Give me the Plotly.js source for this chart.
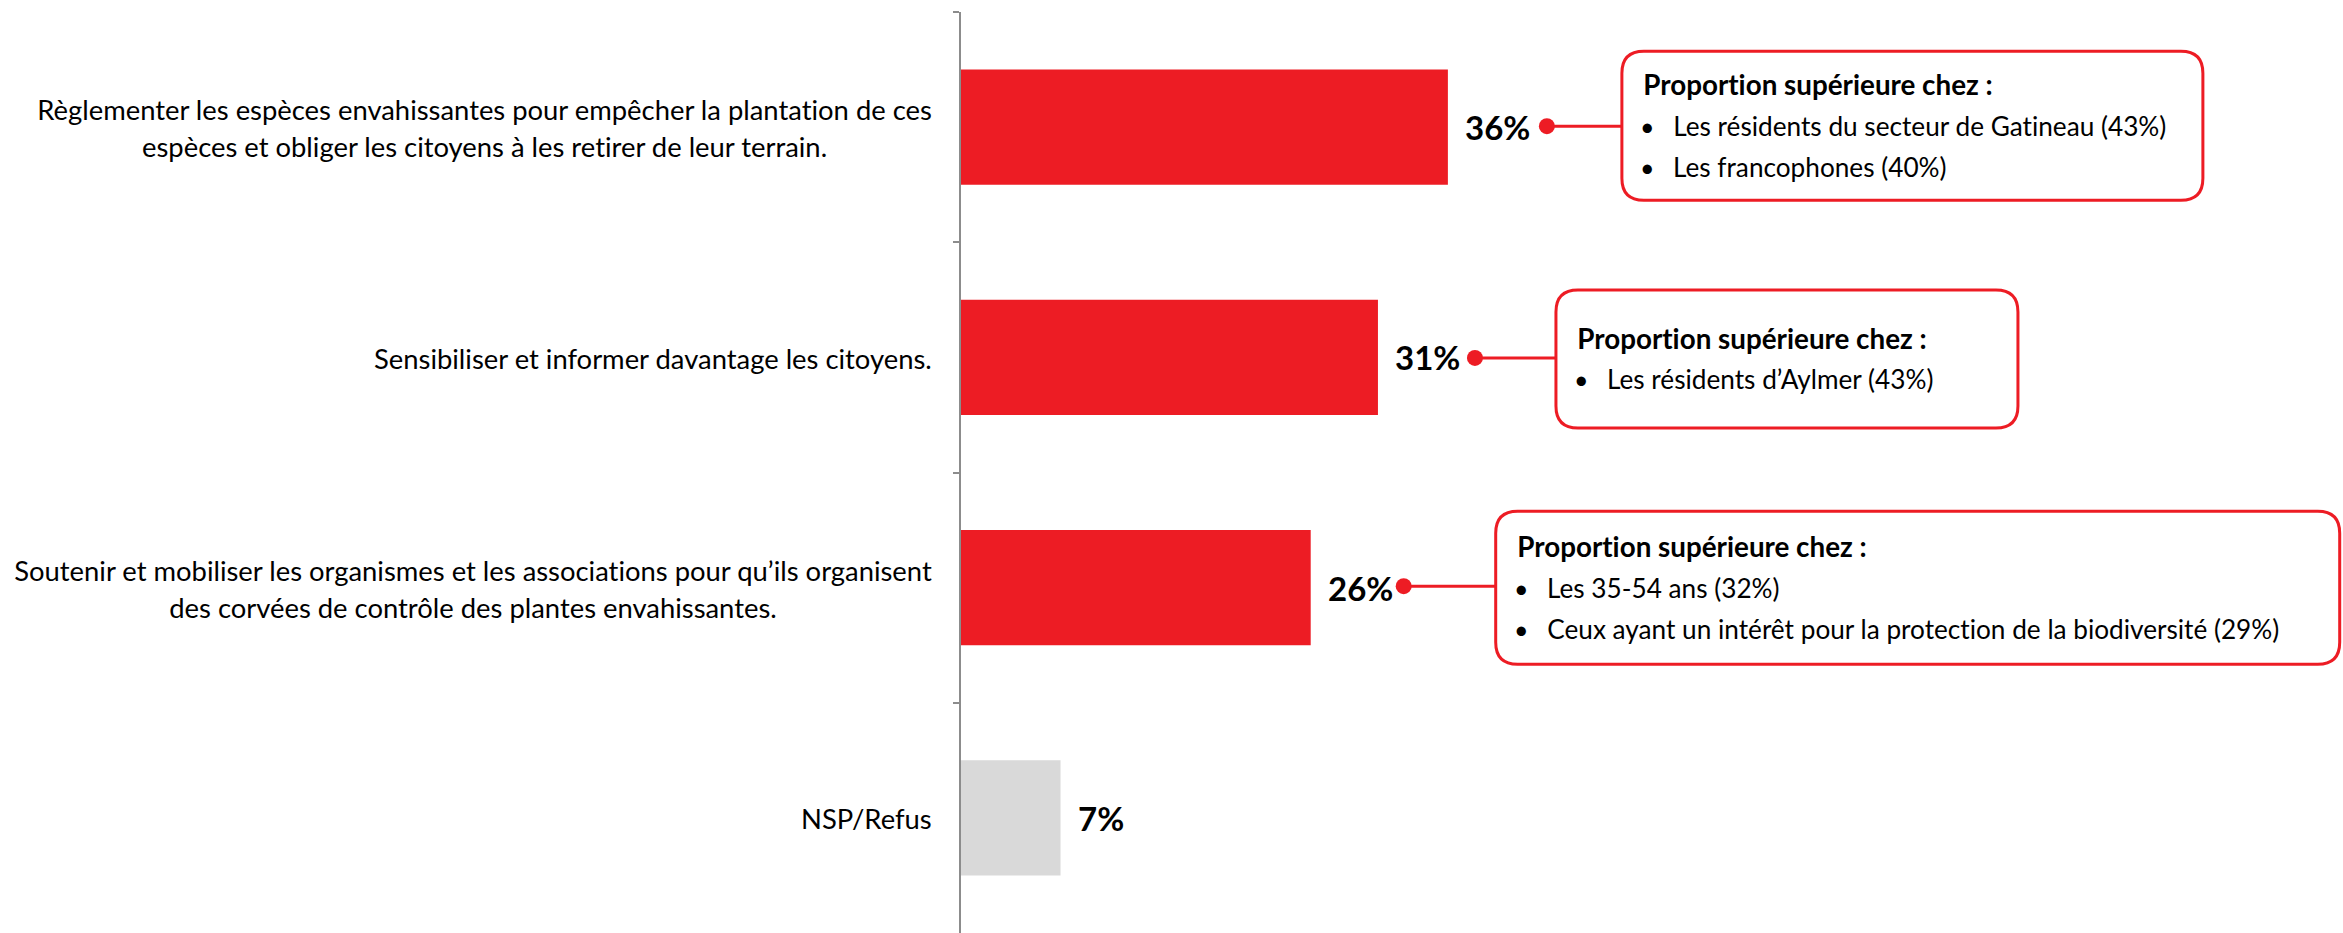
<!DOCTYPE html>
<html><head><meta charset="utf-8">
<script src="https://cdn.plot.ly/plotly-3.0.1.min.js"></script>
<style>html,body{margin:0;padding:0;background:#fff}#chart{width:2343px;height:933px}
#chart text, #chart tspan{font-variant-ligatures:none;font-feature-settings:"liga" 0,"clig" 0}</style>
</head><body><div id="chart"></div>
<script>
// ---- data ----
const categories = [
  "Règlementer les espèces envahissantes pour empêcher la plantation de ces<br>espèces et obliger les citoyens à les retirer de leur terrain.",
  "Sensibiliser et informer davantage les citoyens.",
  "Soutenir et mobiliser les organismes et les associations pour qu’ils organisent<br>des corvées de contrôle des plantes envahissantes.",
  "NSP/Refus"
];
const values = [36.2, 31.0, 26.0, 7.4];
const valueLabels = ["36%", "31%", "26%", "7%"];
const calloutTitle = "Proportion supérieure chez :";
const calloutItems = [
  ["Les résidents du secteur de Gatineau (43%)", "Les francophones (40%)"],
  ["Les résidents d’Aylmer (43%)"],
  ["Les 35-54 ans (32%)", "Ceux ayant un intérêt pour la protection de la biodiversité (29%)"],
  []
];

// ---- styles / positions ----
const RED = "#ED1C24", GRAY = "#D9D9D9";
const barColors = [RED, RED, RED, GRAY];
const FONT = "Lato, 'Open Sans', sans-serif";
const geom = [
  {dot: 99, left: 174, width: 581, height: 149, cy: 1.5, dotY: 1},
  {dot: 97, left: 178, width: 462, height: 138, cy: -1.5, dotY: -0.5},
  {dot: 93, left: 185, width: 844, height: 153, cy: 0, dotY: 1.5},
  null
];

const shapes = [];
const annotations = [];

categories.forEach((cat, i) => {
  const lines = cat.split("<br>").map(l => '<span style="font-size:27.4px">' + l + '</span>').join("<br>");
  annotations.push({
    xref: "paper", x: 0, xanchor: "right", xshift: -27,
    yref: "y", y: i, yanchor: "middle", yshift: -1,
    text: lines, align: "center", showarrow: false,
    font: {family: FONT, size: 28.5, color: "#000"}
  });
  annotations.push({
    xref: "x", x: values[i], xanchor: "left", xshift: 15,
    yref: "y", y: i, yanchor: "middle", yshift: 0,
    text: "<b>" + valueLabels[i] + "</b>", showarrow: false,
    font: {family: FONT, size: 33, color: "#000"}
  });
  const g = geom[i];
  if (!g || !calloutItems[i].length) return;
  const x0 = g.left, x1 = g.left + g.width;
  const yb = g.cy - g.height / 2, yt = g.cy + g.height / 2, r = 22;
  const path = `M ${x0 + r},${yt} L ${x1 - r},${yt} Q ${x1},${yt} ${x1},${yt - r} L ${x1},${yb + r} Q ${x1},${yb} ${x1 - r},${yb} L ${x0 + r},${yb} Q ${x0},${yb} ${x0},${yb + r} L ${x0},${yt - r} Q ${x0},${yt} ${x0 + r},${yt} Z`;
  shapes.push({
    type: "line", xref: "x", xsizemode: "pixel", xanchor: values[i], x0: g.dot, x1: g.left,
    yref: "y", ysizemode: "pixel", yanchor: i, y0: g.dotY, y1: g.dotY,
    line: {color: RED, width: 3}
  });
  shapes.push({
    type: "circle", xref: "x", xsizemode: "pixel", xanchor: values[i], x0: g.dot - 8, x1: g.dot + 8,
    yref: "y", ysizemode: "pixel", yanchor: i, y0: g.dotY - 8, y1: g.dotY + 8,
    fillcolor: RED, line: {color: RED, width: 0}
  });
  shapes.push({
    type: "path", xref: "x", xsizemode: "pixel", xanchor: values[i],
    yref: "y", ysizemode: "pixel", yanchor: i, path: path,
    fillcolor: "#fff", line: {color: RED, width: 3}
  });
  const n = 1 + calloutItems[i].length, sp = 41;
  const rows = [calloutTitle].concat(calloutItems[i]);
  rows.forEach((t, k) => {
    const up = g.cy - (k - (n - 1) / 2) * sp;
    if (k === 0) {
      annotations.push({
        xref: "x", x: values[i], xanchor: "left", xshift: g.left + 19,
        yref: "y", y: i, yanchor: "middle", yshift: up,
        text: "<b>" + t + "</b>", showarrow: false,
        font: {family: FONT, size: 27.8, color: "#000"}
      });
    } else {
      annotations.push({
        xref: "x", x: values[i], xanchor: "left", xshift: g.left + 16,
        yref: "y", y: i, yanchor: "middle", yshift: up,
        text: "•", showarrow: false,
        font: {family: FONT, size: 25, color: "#000"}
      });
      annotations.push({
        xref: "x", x: values[i], xanchor: "left", xshift: g.left + 49,
        yref: "y", y: i, yanchor: "middle", yshift: up,
        text: t, showarrow: false,
        font: {family: FONT, size: 26.2, color: "#000"}
      });
    }
  });
});

const trace = {
  type: "bar", orientation: "h",
  x: values, y: categories,
  marker: {color: barColors, line: {width: 0}},
  hoverinfo: "none", textposition: "none"
};

const layout = {
  width: 2343, height: 933,
  margin: {l: 961, r: 0, t: 12, b: 0, pad: 0},
  paper_bgcolor: "#fff", plot_bgcolor: "#fff",
  showlegend: false, bargap: 0.5,
  xaxis: {range: [0, 102.75], visible: false, fixedrange: true},
  yaxis: {
    type: "category", categoryorder: "array", categoryarray: categories,
    autorange: "reversed", showline: true, linecolor: "#8c8c8c", linewidth: 2,
    ticks: "outside", tickson: "boundaries", ticklen: 6, tickcolor: "#8c8c8c", tickwidth: 2,
    showticklabels: false, showgrid: false, zeroline: false, fixedrange: true
  },
  shapes: shapes, annotations: annotations
};

Plotly.newPlot("chart", [trace], layout, {staticPlot: true, displayModeBar: false});
</script>
</body></html>
